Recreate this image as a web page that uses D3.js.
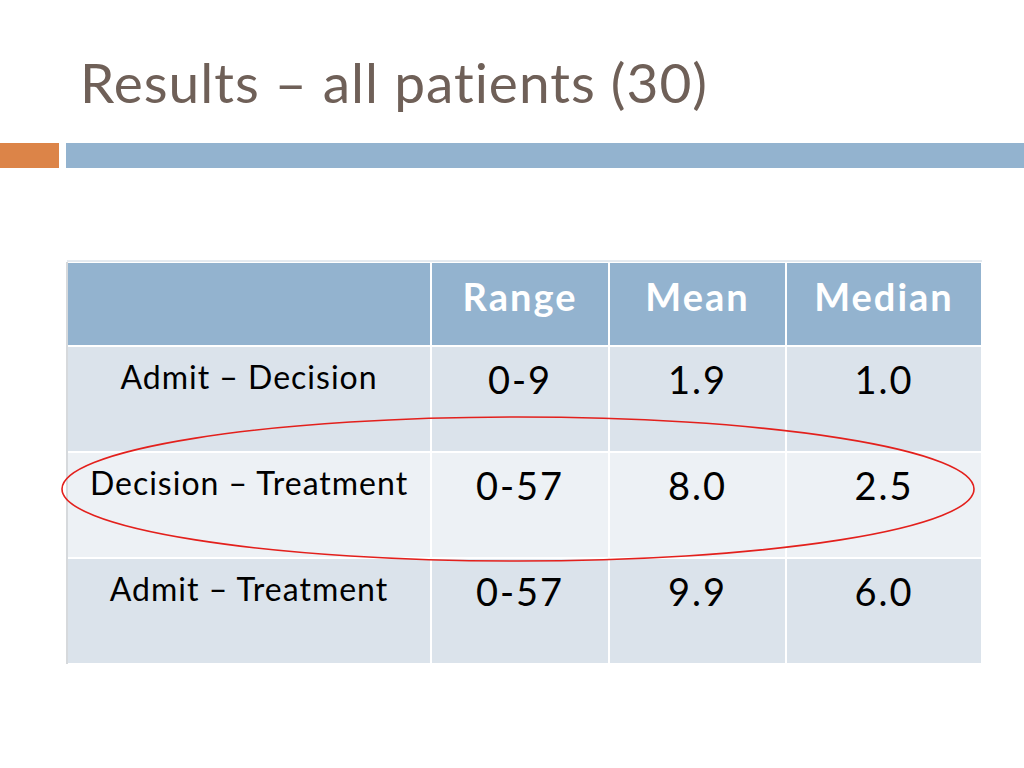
<!DOCTYPE html>
<html>
<head>
<meta charset="utf-8">
<script src="https://cdn.jsdelivr.net/npm/d3@7"></script>
<style>
  body { margin: 0; background: #fff; }
  svg { display: block; }
</style>
</head>
<body>
<div id="slide"></div>
<script>
// Table data
var title = "Results \u2013 all patients (30)";
var headers = ["", "Range", "Mean", "Median"];
var intervals = ["Admit \u2013 Decision", "Decision \u2013 Treatment", "Admit \u2013 Treatment"];
var ranges = ["0-9", "0-57", "0-57"];
var means = ["1.9", "8.0", "9.9"];
var medians = ["1.0", "2.5", "6.0"];
var highlighted = "Decision \u2013 Treatment";

var W = 1024, H = 768;
var font = "'Lato', 'Noto Sans', sans-serif";

var svg = d3.select("#slide").append("svg")
  .attr("width", W).attr("height", H);

// title
svg.append("text")
  .attr("x", 80).attr("y", 103)
  .attr("font-family", font)
  .attr("font-size", 55)
  .attr("letter-spacing", 1)
  .attr("fill", "#6f6058")
  .text(title);

// accent bars
svg.append("rect").attr("x", 0).attr("y", 143).attr("width", 59).attr("height", 25).attr("fill", "#dc8448");
svg.append("rect").attr("x", 66).attr("y", 143).attr("width", W - 66).attr("height", 25).attr("fill", "#93b3cf");

// table geometry
var colEdges = [67, 431, 609, 786, 982];
var rows = intervals.map(function (d, i) {
  return [d, ranges[i], means[i], medians[i]];
});
var headTop = 262, headBottom = 346, tableBottom = 664;
var y = d3.scaleBand().domain(intervals).range([headBottom, tableBottom]);

var table = svg.append("g");

// header cells
table.selectAll("rect.head")
  .data(headers)
  .enter().append("rect")
  .attr("class", "head")
  .attr("x", function (d, i) { return colEdges[i]; })
  .attr("y", headTop)
  .attr("width", function (d, i) { return colEdges[i + 1] - colEdges[i]; })
  .attr("height", headBottom - headTop)
  .attr("fill", "#93b3cf")
  .attr("stroke", "#fff").attr("stroke-width", 2);

table.selectAll("text.head")
  .data(headers)
  .enter().append("text")
  .attr("class", "head")
  .attr("x", function (d, i) { return (colEdges[i] + colEdges[i + 1]) / 2; })
  .attr("y", headTop + 49)
  .attr("text-anchor", "middle")
  .attr("font-family", font)
  .attr("font-weight", "bold")
  .attr("font-size", 38)
  .attr("letter-spacing", 2)
  .attr("fill", "#fff")
  .text(function (d) { return d; });

// body rows
var row = table.selectAll("g.row")
  .data(rows)
  .enter().append("g")
  .attr("class", "row")
  .attr("transform", function (d) { return "translate(0," + y(d[0]) + ")"; });

row.selectAll("rect")
  .data(function (d, r) { return d.map(function (v) { return {v: v, r: r}; }); })
  .enter().append("rect")
  .attr("x", function (d, i) { return colEdges[i]; })
  .attr("y", 0)
  .attr("width", function (d, i) { return colEdges[i + 1] - colEdges[i]; })
  .attr("height", y.bandwidth())
  .attr("fill", function (d) { return d.r % 2 ? "#edf1f5" : "#dbe3eb"; })
  .attr("stroke", "#fff").attr("stroke-width", 2);

row.selectAll("text")
  .data(function (d) { return d; })
  .enter().append("text")
  .attr("x", function (d, i) { return (colEdges[i] + colEdges[i + 1]) / 2; })
  .attr("y", function (d, i) { return i === 0 ? 43 : 48; })
  .attr("text-anchor", "middle")
  .attr("font-family", font)
  .attr("font-size", function (d, i) { return i === 0 ? 32 : 38; })
  .attr("letter-spacing", function (d, i) { return i === 0 ? 1 : 2; })
  .attr("fill", "#000")
  .text(function (d) { return d; });

// left border line
table.append("line")
  .attr("x1", colEdges[0]).attr("x2", colEdges[0])
  .attr("y1", headTop).attr("y2", tableBottom)
  .attr("stroke", "#c8ccd0").attr("stroke-width", 1.5);
table.append("line")
  .attr("x1", colEdges[0]).attr("x2", colEdges[colEdges.length - 1])
  .attr("y1", headTop - 1).attr("y2", headTop - 1)
  .attr("stroke", "#c8d4e0").attr("stroke-width", 1);

// red ellipse around highlighted row
svg.append("ellipse")
  .attr("cx", 518)
  .attr("cy", y(highlighted) + y.bandwidth() / 2 - 16)
  .attr("rx", 456)
  .attr("ry", 72)
  .attr("fill", "none")
  .attr("stroke", "#e3201c")
  .attr("stroke-width", 1.6);
</script>
</body>
</html>
